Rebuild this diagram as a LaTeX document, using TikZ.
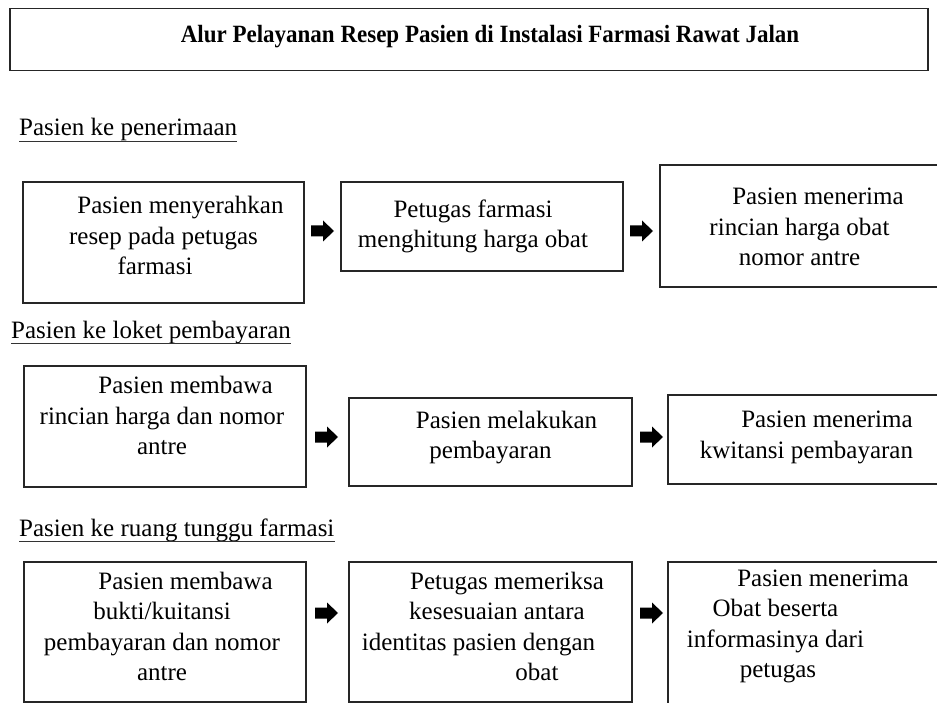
\documentclass[tikz,border=0pt]{standalone}
\usepackage{fontspec}
\usepackage{graphicx}
\setmainfont{Liberation Serif}
\newfontfamily\timesfont{Liberation Serif}
\usetikzlibrary{calc}
\tikzset{
  box/.style={draw=black!85, line width=1.1pt, inner sep=0pt},
  txt/.style={font=\timesfont\fontsize{25}{30.5}\selectfont, align=center, inner sep=0pt, text=black},
  titletxt/.style={font=\timesfont\fontsize{23}{28}\selectfont\bfseries, inner sep=0pt, text=black},
  head/.style={font=\timesfont\fontsize{25}{30}\selectfont, inner sep=0pt, anchor=base west, text=black},
  uline/.style={line width=1.6pt, draw=black!80},
  barrow/.pic={\fill[black] (-11.5,-5.5) -- (0.5,-5.5) -- (0.5,-10.5) -- (11.5,0) -- (0.5,10.5) -- (0.5,5.5) -- (-11.5,5.5) -- cycle;}
}
\begin{document}
\begin{tikzpicture}[x=1pt,y=-1pt]
\fill[white] (0,0) rectangle (937,703);
\useasboundingbox (0,0) rectangle (937,703);

% title
\node[box, minimum width=918pt, minimum height=62pt,
  label={[titletxt, xshift=21pt, yshift=3pt]center:{\scalebox{1}[1.08]{Alur Pelayanan Resep Pasien di Instalasi Farmasi Rawat Jalan}}}] (title) at (469,39.5) {};

% headings
\node[head] (h1) at (19,136) {Pasien ke penerimaan};
\draw[uline] ([yshift=-5.5pt]h1.base west) -- ([yshift=-5.5pt]h1.base east);
\node[head] (h2) at (11,338) {Pasien ke loket pembayaran};
\draw[uline] ([yshift=-5.5pt]h2.base west) -- ([yshift=-5.5pt]h2.base east);
\node[head] (h3) at (19,536) {Pasien ke ruang tunggu farmasi};
\draw[uline] ([yshift=-5.5pt]h3.base west) -- ([yshift=-5.5pt]h3.base east);

% row 1
\node[box, minimum width=281pt, minimum height=121pt,
  label={[txt, yshift=7pt]center:{\hspace*{34pt}Pasien menyerahkan\\resep pada petugas\\farmasi\hspace*{17pt}}}] (A) at (163.5,242.5) {};
\node[box, minimum width=282pt, minimum height=89pt,
  label={[txt, xshift=-9pt]center:{Petugas farmasi\\menghitung harga obat}}] (B) at (482,226.5) {};
\node[box, minimum width=285pt, minimum height=122pt,
  label={[txt, xshift=-3pt, yshift=-1pt]center:{\hspace*{37pt}Pasien menerima\\rincian harga obat\\nomor antre}}] (C) at (802.5,226) {};
\coordinate (a1) at (322.5,231);
\coordinate (a2) at (641.5,231);
\pic at (a1) {barrow};
\pic at (a2) {barrow};

% row 2
\node[box, minimum width=282pt, minimum height=121pt,
  label={[txt, xshift=-3pt, yshift=11pt]center:{\hspace*{47pt}Pasien membawa\\rincian harga dan nomor\\antre}}] (D) at (165,426.5) {};
\node[box, minimum width=283pt, minimum height=88pt,
  label={[txt, yshift=4.5pt]center:{\hspace*{32pt}Pasien melakukan\\pembayaran}}] (E) at (490.5,442) {};
\node[box, minimum width=277pt, minimum height=89pt,
  label={[txt, yshift=2pt]center:{\hspace*{41pt}Pasien menerima\\kwitansi pembayaran}}] (F) at (806.5,439.5) {};
\coordinate (a3) at (326.5,437);
\coordinate (a4) at (651.5,437);
\pic at (a3) {barrow};
\pic at (a4) {barrow};

% row 3
\node[box, minimum width=282pt, minimum height=140pt,
  label={[txt, xshift=-3pt, yshift=5.5pt]center:{\hspace*{47pt}Pasien membawa\\bukti/kuitansi\hspace*{31pt}\\pembayaran dan nomor\\antre}}] (G) at (165,632) {};
\node[box, minimum width=283pt, minimum height=140pt,
  label={[txt, xshift=-12pt, yshift=5.5pt]center:{\hspace*{57pt}Petugas memeriksa\\\hspace*{37pt}kesesuaian antara\\identitas pasien dengan\hspace*{14pt}\\\hspace*{117pt}obat}}] (H) at (490.5,632) {};
\node[box, minimum width=277pt, minimum height=150pt,
  label={[txt, xshift=-31pt, yshift=10.5pt]center:{\hspace*{95pt}Pasien menerima\\Obat beserta\hspace*{16pt}\\informasinya dari\\\hspace*{5pt}petugas}}] (I) at (806.5,637) {};
\coordinate (a5) at (326.5,613);
\coordinate (a6) at (651.5,613);
\pic at (a5) {barrow};
\pic at (a6) {barrow};
\end{tikzpicture}
\end{document}
